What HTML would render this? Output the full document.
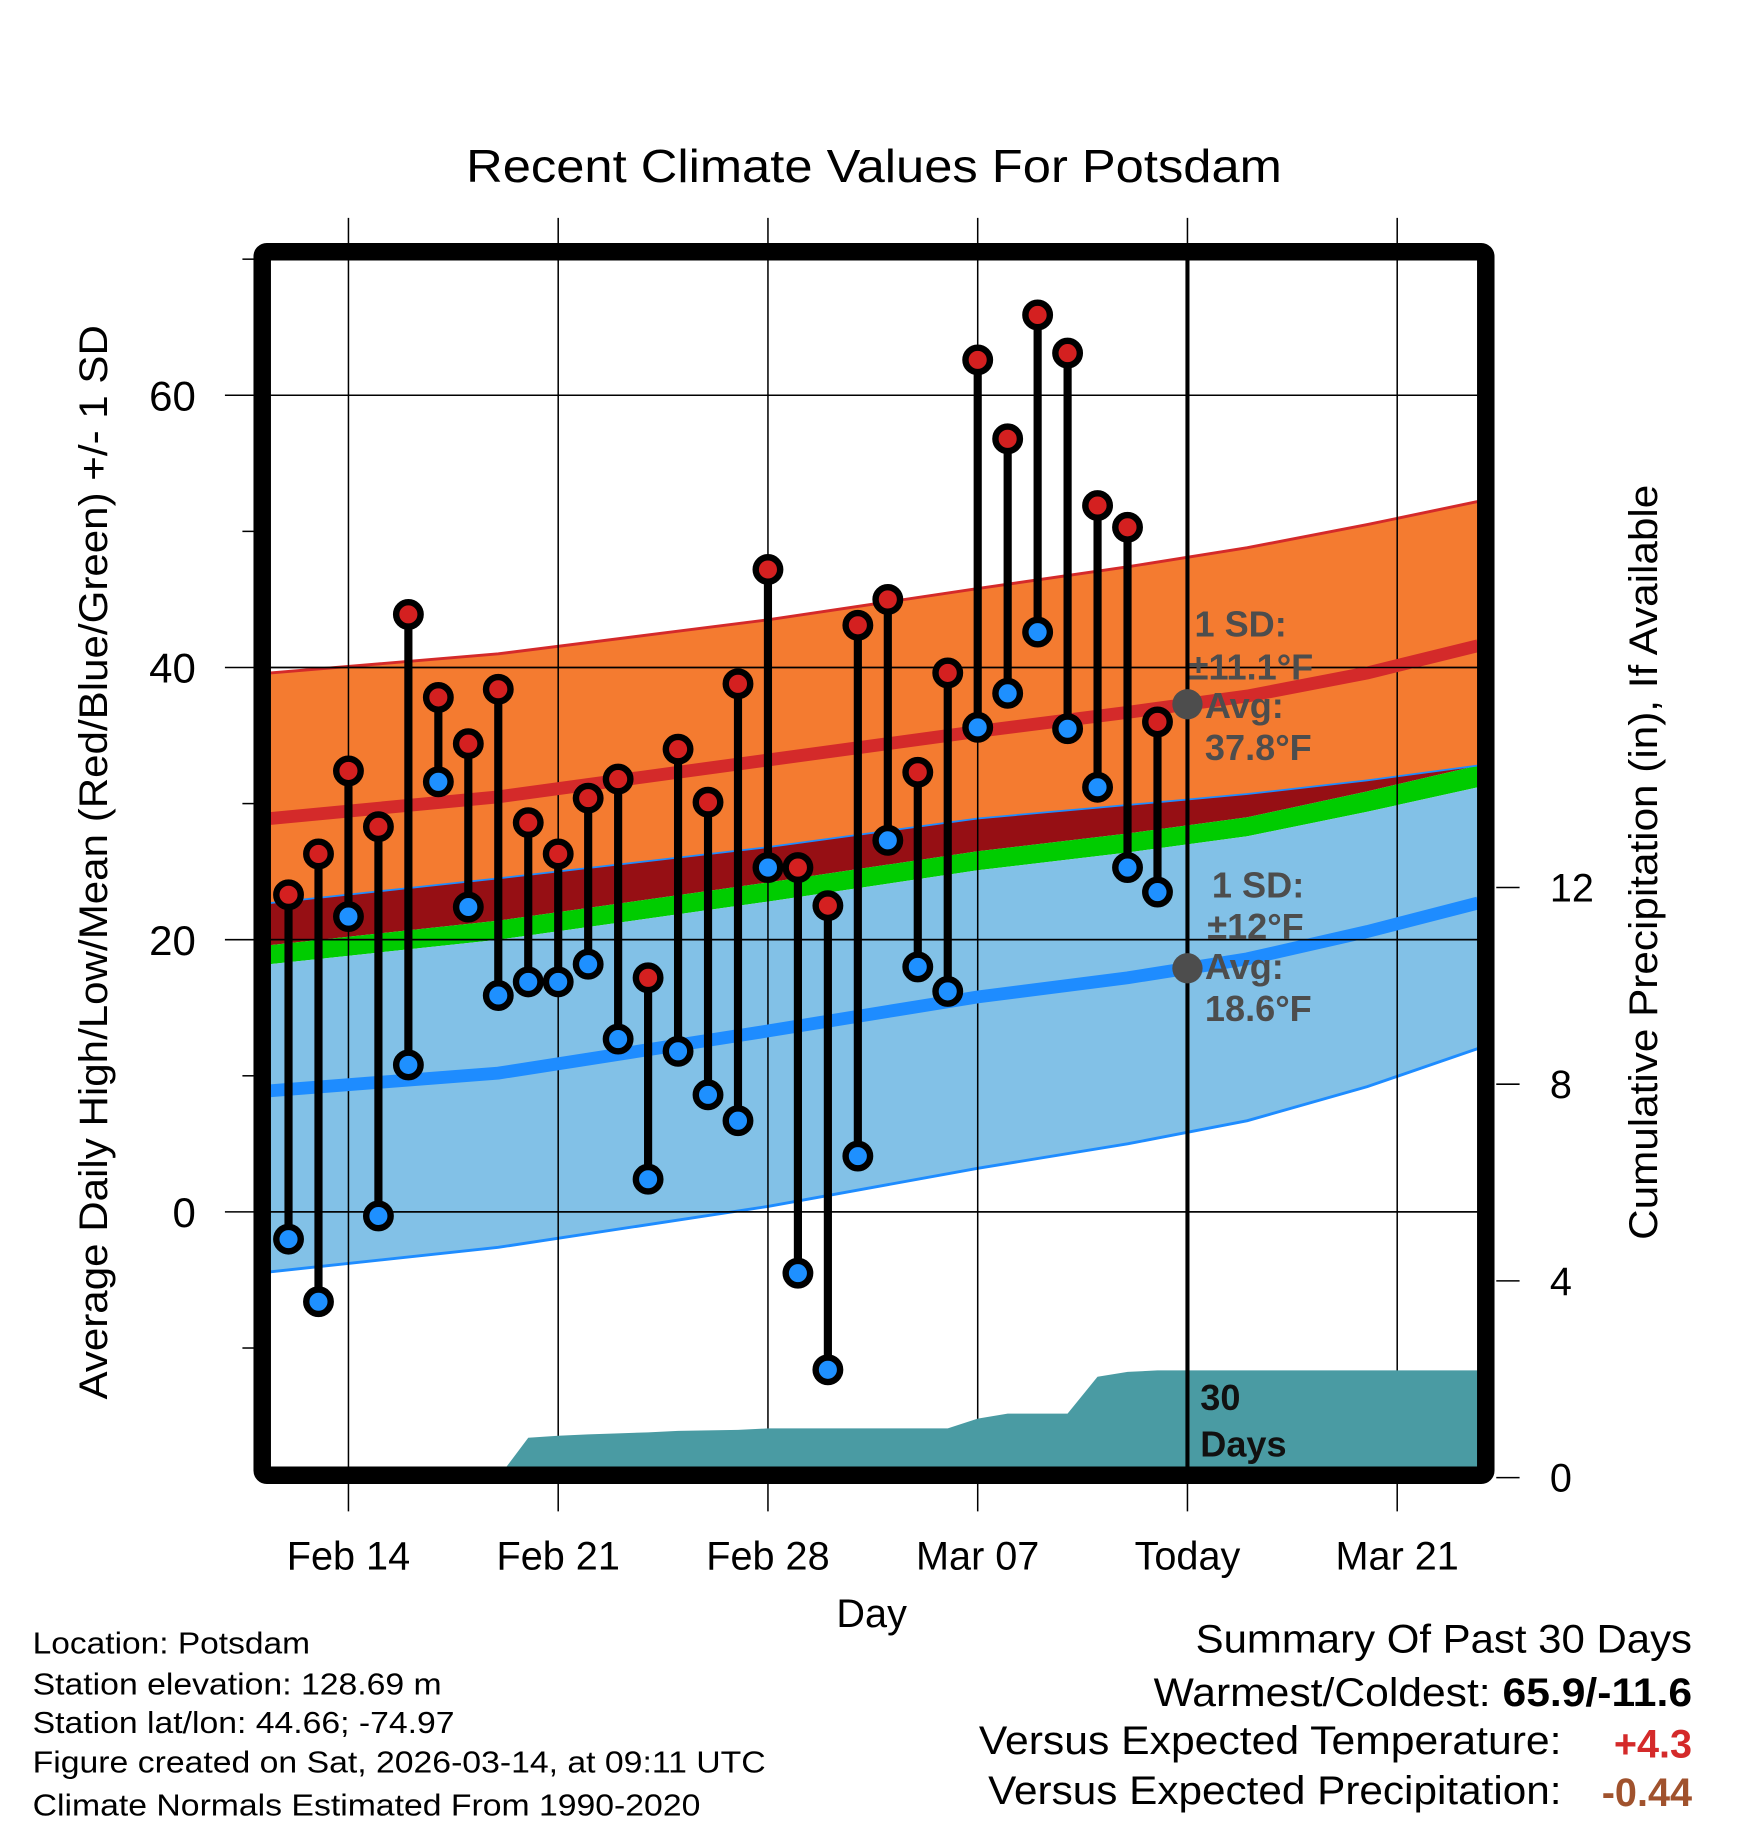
<!DOCTYPE html>
<html><head><meta charset="utf-8"><style>
html,body{margin:0;padding:0;background:#fff}
svg{display:block}
text{font-family:"Liberation Sans",sans-serif}
</style></head><body>
<svg id="chart" width="1748" height="1828" viewBox="0 0 1500 1568.7" xmlns="http://www.w3.org/2000/svg">
<g id="fills"></g>
<g id="grid"></g>
<g id="precip"></g>
<g id="means"></g>
<g id="annot"></g>
<g id="stems"></g>
<g id="frame"></g>
<g id="axes"></g>
<text x="400" y="156" font-size="40" textLength="700" lengthAdjust="spacingAndGlyphs">Recent Climate Values For Potsdam</text>
<text transform="translate(92,740) rotate(-90)" text-anchor="middle" font-size="34" textLength="922" lengthAdjust="spacingAndGlyphs">Average Daily High/Low/Mean (Red/Blue/Green) +/- 1 SD</text>
<text transform="translate(1422,740) rotate(-90)" text-anchor="middle" font-size="34" textLength="648" lengthAdjust="spacingAndGlyphs">Cumulative Precipitation (in), If Available</text>
<text x="748" y="1396" text-anchor="middle" font-size="34">Day</text>
<g font-size="26">
<text x="28" y="1419" textLength="238" lengthAdjust="spacingAndGlyphs">Location: Potsdam</text>
<text x="28" y="1454" textLength="351" lengthAdjust="spacingAndGlyphs">Station elevation: 128.69 m</text>
<text x="28" y="1487" textLength="362" lengthAdjust="spacingAndGlyphs">Station lat/lon: 44.66; -74.97</text>
<text x="28" y="1521" textLength="629" lengthAdjust="spacingAndGlyphs">Figure created on Sat, 2026-03-14, at 09:11 UTC</text>
<text x="28" y="1558" textLength="573" lengthAdjust="spacingAndGlyphs">Climate Normals Estimated From 1990-2020</text>
</g>
<g font-size="34">
<text x="1452" y="1418" text-anchor="end" textLength="426" lengthAdjust="spacingAndGlyphs">Summary Of Past 30 Days</text>
<text x="1452" y="1464" text-anchor="end" textLength="462" lengthAdjust="spacingAndGlyphs">Warmest/Coldest: <tspan font-weight="bold">65.9/-11.6</tspan></text>
<text x="1340" y="1505" text-anchor="end" textLength="500" lengthAdjust="spacingAndGlyphs">Versus Expected Temperature:</text>
<text x="1452" y="1508" text-anchor="end" font-weight="bold" fill="#d42a2a">+4.3</text>
<text x="1340" y="1548" text-anchor="end" textLength="492" lengthAdjust="spacingAndGlyphs">Versus Expected Precipitation:</text>
<text x="1452" y="1550" text-anchor="end" font-weight="bold" fill="#a0522d">-0.44</text>
</g>
</svg>
<script>
// Data (days relative to Feb 14)
const days = [-2,-1,0,1,2,3,4,5,6,7,8,9,10,11,12,13,14,15,16,17,18,19,20,21,22,23,24,25,26,27];
const highs = [23.3,26.3,32.4,28.3,43.9,37.8,34.4,38.4,28.6,26.3,30.4,31.8,17.2,34.0,30.1,38.8,47.2,25.3,22.5,43.1,45.0,32.3,39.6,62.6,56.8,65.9,63.1,51.9,50.3,36.0];
const lows = [-2.0,-6.6,21.7,-0.3,10.8,31.6,22.4,15.9,16.9,16.9,18.2,12.7,2.4,11.8,8.6,6.7,25.3,-4.5,-11.6,4.1,27.3,18.0,16.2,35.6,38.1,42.6,35.5,31.2,25.3,23.5];
const precip = [0,0,0,0,0,0,0,0,0.81,0.85,0.88,0.9,0.92,0.95,0.96,0.97,1.0,1.0,1.0,1.0,1.0,1.0,1.0,1.2,1.3,1.3,1.3,2.05,2.15,2.18];
const normDays = [-2.6,5,14,21,26,30,34,37.7];
const highMean = [28.9,30.5,33.2,35.3,36.7,37.9,39.6,41.6];
const highUpper = [39.6,41.0,43.5,45.8,47.4,48.8,50.5,52.2];
const highLower = [22.7,24.5,26.8,28.9,29.9,30.7,31.7,32.8];
const overlapMid = [19.6,21.4,24.2,26.5,27.8,29.0,30.9,32.8];
const lowUpper = [18.2,20.0,22.8,25.1,26.4,27.6,29.4,31.2];
const lowMean = [8.9,10.2,13.3,15.8,17.2,18.6,20.6,22.7];
const lowLower = [-4.4,-2.6,0.4,3.2,5.0,6.7,9.2,12.0];
const yTicks = [0,20,40,60];
const yMinor = [-10,10,30,50,70];
const pTicks = [0,4,8,12];
const xTickDays = [0,7,14,21,28,35];
const xTickLabels = ["Feb 14","Feb 21","Feb 28","Mar 07","Today","Mar 21"];
const todayDay = 28;

const L=232,R=1268,T=222,B=1260;
const X=d=>299+25.714*d;
const Y=v=>1040-11.68*v;
const P=p=>1268-42.2*p;
const NS="http://www.w3.org/2000/svg";
function mk(tag,attrs,parent){const e=document.createElementNS(NS,tag);for(const k in attrs)e.setAttribute(k,attrs[k]);parent.appendChild(e);return e;}
function pts(ds,vs){return ds.map((d,i)=>X(d).toFixed(1)+","+Y(vs[i]).toFixed(1));}
function band(top,bot,fill,name){
  const p=mk('polygon',{points:pts(normDays,top).concat(pts(normDays,bot).reverse()).join(' '),fill:fill},document.getElementById('fills'));
  
  
}
band(highUpper,highLower,'#f47b30','high-sd-band');
band(highLower,overlapMid,'#960f14','overlap-band');
band(overlapMid,lowUpper,'#00cc00','mean-band');
band(lowUpper,lowLower,'#82c1e7','low-sd-band');
const fills=document.getElementById('fills');
let l=mk('polyline',{points:pts(normDays,highUpper).join(' '),fill:'none',stroke:'#d42a2a','stroke-width':2.5},fills);


l=mk('polyline',{points:pts(normDays,highLower).join(' '),fill:'none',stroke:'#1e8cff','stroke-width':1.5},fills);


l=mk('polyline',{points:pts(normDays,lowLower).join(' '),fill:'none',stroke:'#1e8cff','stroke-width':2.5},fills);



// grid
const grid=document.getElementById('grid');
xTickDays.forEach(d=>{const g=mk('line',{x1:X(d),x2:X(d),y1:187,y2:1297,stroke:'#000','stroke-width':1.3},grid);

});
yTicks.forEach(v=>{const g=mk('line',{x1:193,x2:R,y1:Y(v),y2:Y(v),stroke:'#000','stroke-width':1.3},grid);

});

// precip
const pp=[[X(days[0]),P(0)]];
days.forEach((d,i)=>pp.push([X(d),P(precip[i])]));
pp.push([R,P(precip[precip.length-1])]);pp.push([R,P(0)]);
const pa=mk('polygon',{points:pp.map(a=>a[0].toFixed(1)+","+a[1].toFixed(1)).join(' '),fill:'#4a9ba3'},document.getElementById('precip'));



// mean lines
const means=document.getElementById('means');
l=mk('polyline',{points:pts(normDays,highMean).join(' '),fill:'none',stroke:'#d42a2a','stroke-width':11},means);


l=mk('polyline',{points:pts(normDays,lowMean).join(' '),fill:'none',stroke:'#1e8cff','stroke-width':11},means);


yTicks.forEach(v=>{const g=mk('line',{x1:L,x2:R,y1:Y(v),y2:Y(v),stroke:'#000','stroke-width':1.3},means);

});

// today line
const tl=mk('line',{x1:X(todayDay),x2:X(todayDay),y1:T,y2:B,stroke:'#000','stroke-width':3.5},means);



// annotations
const an=document.getElementById('annot');
const ix=(d,arr)=>{for(let i=0;i<normDays.length-1;i++){if(d>=normDays[i]&&d<=normDays[i+1]){const t=(d-normDays[i])/(normDays[i+1]-normDays[i]);return arr[i]+t*(arr[i+1]-arr[i]);}}return arr[0];};
[[highMean,'high-mean-marker'],[lowMean,'low-mean-marker']].forEach(([arr,n])=>{
  const c=mk('circle',{cx:X(todayDay),cy:Y(ix(todayDay,arr)),r:13,fill:'#4d4d4d'},an);
  
  
});
const ann=[[1025,546,'1 SD:'],[1020,583,'±11.1°F'],[1034,616,'Avg:'],[1034,652,'37.8°F'],[1040,770,'1 SD:'],[1036,806,'±12°F'],[1034,840,'Avg:'],[1034,876,'18.6°F']];
ann.forEach(a=>{const t=mk('text',{x:a[0],y:a[1],'font-size':31,'font-weight':'bold',fill:'#4d4d4d'},an);t.textContent=a[2];

});
const dl=mk('text',{x:1030,y:1210,'font-size':31,'font-weight':'bold',fill:'#111'},an);dl.textContent='30';


const dl2=mk('text',{x:1030,y:1250,'font-size':31,'font-weight':'bold',fill:'#111'},an);dl2.textContent='Days';



// stems
const st=document.getElementById('stems');
days.forEach((d,i)=>{
  const ln=mk('line',{x1:X(d),x2:X(d),y1:Y(highs[i]),y2:Y(lows[i]),stroke:'#000','stroke-width':7},st);
  
  
  const h=mk('circle',{cx:X(d),cy:Y(highs[i]),r:10.5,fill:'#d42020',stroke:'#000','stroke-width':5.5},st);
  
  
  const lo=mk('circle',{cx:X(d),cy:Y(lows[i]),r:10.5,fill:'#1e90ff',stroke:'#000','stroke-width':5.5},st);
  
  
});

// frame
const fr=mk('rect',{x:L-7,y:T-6,width:R-L+14,height:B-T+12,rx:4,fill:'none',stroke:'#000','stroke-width':15},document.getElementById('frame'));



// axes labels
const ax=document.getElementById('axes');
yTicks.forEach(v=>{const t=mk('text',{x:168,y:Y(v)+13,'font-size':36,'text-anchor':'end'},ax);t.textContent=v;

});
yMinor.forEach(v=>{const t=mk('line',{x1:208,x2:220,y1:Y(v),y2:Y(v),stroke:'#000','stroke-width':1.3},ax);

});
pTicks.forEach(p=>{const t=mk('line',{x1:1284,x2:1304,y1:P(p),y2:P(p),stroke:'#000','stroke-width':1.3},ax);


const lb=mk('text',{x:1330,y:P(p)+12,'font-size':34},ax);lb.textContent=p;

});
xTickDays.forEach((d,i)=>{const t=mk('text',{x:X(d),y:1347,'font-size':34,'text-anchor':'middle'},ax);t.textContent=xTickLabels[i];

});
</script>
</body></html>
